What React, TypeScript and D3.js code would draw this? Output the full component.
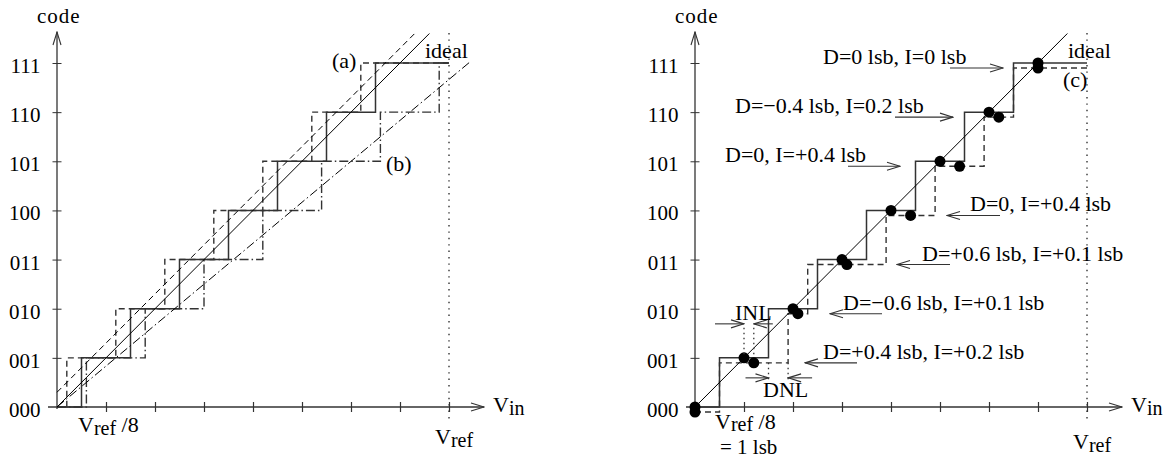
import * as d3 from "d3";
import { useEffect, useRef } from "react";

// codes on the y axis, lsb steps on the x axis
const codes = ["000", "001", "010", "011", "100", "101", "110", "111"];
const codeTicks = [0, 1, 2, 3, 4, 5, 6, 7];
const lsbTicks = [1, 2, 3, 4, 5, 6, 7, 8];

// transition points (lsb) for codes 001..111
const idealSteps = [0.5, 1.5, 2.5, 3.5, 4.5, 5.5, 6.5];
const offsetSteps = [0.2, 1.2, 2.2, 3.2, 4.2, 5.2, 6.2];
const gainSteps = [0.6, 1.8, 3.0, 4.2, 5.4, 6.6, 7.8];
const realSteps = [0.5, 1.9, 2.3, 3.9, 4.9, 5.9, 6.5];

// straight lines [lsb, code]
const idealLine = [[0, 0], [7.6, 7.6]];
const offsetLine = [[0, 0.3], [7.3, 7.6]];
const gainLine = [[0, 0], [8.45, 7.04]];

// INL of each tread centre (lsb), codes 000..111
const inl = [0, 0.2, 0.1, 0.1, 0.4, 0.4, 0.2, 0];

// annotations for codes 111 down to 001
const noteCodes = [7, 6, 5, 4, 3, 2, 1];
const notes = [
  "D=0 lsb, I=0 lsb",
  "D=\u22120.4 lsb, I=0.2 lsb",
  "D=0, I=+0.4 lsb",
  "D=0, I=+0.4 lsb",
  "D=+0.6 lsb, I=+0.1 lsb",
  "D=\u22120.6 lsb, I=+0.1 lsb",
  "D=+0.4 lsb, I=+0.2 lsb",
];
// text x, arrow start, arrow end (px)
const noteLayout = [
  [823, 950, 1003],
  [735, 895, 953],
  [725, 848, 900],
  [970, 1000, 947],
  [922, 950, 897],
  [843, 882, 830],
  [823, 857, 805],
];

const FONT = "'Liberation Serif', 'DejaVu Serif', serif";
const INK = "#333";
const SHIFT = 5; // the real characteristic is drawn a bit below the ideal one

const stairs = (steps: number[]) => {
  const pts: [number, number][] = [[0, 0]];
  steps.forEach((s, i) => {
    pts.push([s, i]);
    pts.push([s, i + 1]);
  });
  pts.push([8, 7]);
  return pts;
};

const App = () => {
  const ref = useRef<SVGSVGElement>(null);

  useEffect(() => {
    const svg = d3.select(ref.current);
    svg.selectAll("*").remove();

    const defs = svg.append("defs");
    defs.append("marker")
      .attr("id", "arr")
      .attr("markerUnits", "userSpaceOnUse")
      .attr("markerWidth", 15).attr("markerHeight", 10)
      .attr("viewBox", "0 0 15 10")
      .attr("refX", 14).attr("refY", 5)
      .attr("orient", "auto")
      .append("path")
      .attr("d", "M1,1 L14,5 L1,9")
      .attr("fill", "none").attr("stroke", INK).attr("stroke-width", 1.1);

    const y = d3.scaleLinear().domain([0, 7]).range([407, 63]);

    const text = (g: any, x: number, yy: number, s: string, size = 22) =>
      g.append("text")
        .attr("x", x).attr("y", yy)
        .attr("font-family", FONT).attr("font-size", size)
        .attr("fill", "#000")
        .text(s);

    const sub = (g: any, x: number, yy: number, main: string, low: string, tail = "", drop = 3) => {
      const t = g.append("text").attr("x", x).attr("y", yy)
        .attr("font-family", FONT).attr("fill", "#000");
      t.append("tspan").attr("font-size", 22).text(main);
      t.append("tspan").attr("font-size", 20).attr("dy", drop).text(low);
      if (tail) t.append("tspan").attr("font-size", 22).attr("dy", -drop).text(tail);
    };

    const drawAxes = (g: any, x: d3.ScaleLinear<number, number>) => {
      const yAxis = g.append("g").attr("transform", `translate(${x(0)},0)`)
        .call(d3.axisLeft(y).tickValues(codeTicks).tickFormat((i: any) => codes[i]).tickSize(4.5).tickPadding(12));
      yAxis.select(".domain").remove();
      yAxis.selectAll("line").attr("stroke", INK).filter((d: any) => d === 0).remove();
      yAxis.selectAll("text").attr("font-family", FONT).attr("font-size", 21).attr("dy", "0.45em").attr("fill", "#000");

      const yAxis2 = g.append("g").attr("transform", `translate(${x(0)},0)`)
        .call(d3.axisRight(y).tickValues(codeTicks.slice(1)).tickFormat(() => "").tickSize(4.5));
      yAxis2.select(".domain").remove();
      yAxis2.selectAll("line").attr("stroke", INK);

      [d3.axisBottom(x), d3.axisTop(x)].forEach((ax) => {
        const a = g.append("g").attr("transform", `translate(0,${y(0)})`)
          .call(ax.tickValues(lsbTicks).tickFormat(() => "").tickSize(5));
        a.select(".domain").remove();
        a.selectAll("line").attr("stroke", INK).attr("stroke-width", 1.2);
      });

      g.append("line")
        .attr("x1", x(0)).attr("y1", y(0) + 2).attr("x2", x(0)).attr("y2", 32)
        .attr("stroke", INK).attr("stroke-width", 1.3).attr("marker-end", "url(#arr)");
      g.append("line")
        .attr("x1", x(0) - 9).attr("y1", y(0)).attr("x2", x(8) + 35).attr("y2", y(0))
        .attr("stroke", INK).attr("stroke-width", 1.3).attr("marker-end", "url(#arr)");

      // Vref dotted marker
      g.append("line")
        .attr("x1", x(8)).attr("y1", 33).attr("x2", x(8)).attr("y2", 420)
        .attr("stroke", INK).attr("stroke-width", 1.4).attr("stroke-dasharray", "1.4,5");

      text(g, x(0) - 20, 23, "code", 21).attr("letter-spacing", 1);
      sub(g, x(8) + 44, 412, "V", "in");
    };

    const curve = (g: any, x: d3.ScaleLinear<number, number>, pts: number[][], dash: string | null, w = 1.4, dy = 0, color = INK) => {
      const line = d3.line<number[]>().x((d) => x(d[0])).y((d) => y(d[1]) + dy);
      const p = g.append("path").attr("d", line(pts)).attr("fill", "none")
        .attr("stroke", color).attr("stroke-width", w);
      if (dash) p.attr("stroke-dasharray", dash);
      return p;
    };

    // ---------- left panel ----------
    const xl = d3.scaleLinear().domain([0, 8]).range([57, 449]);
    const left = svg.append("g");
    drawAxes(left, xl);
    curve(left, xl, stairs(gainSteps), "9,3,1.5,3");
    curve(left, xl, stairs(offsetSteps), "6,4");
    curve(left, xl, stairs(idealSteps), null, 1.5);
    curve(left, xl, idealLine, null, 1, 0, "#000");
    curve(left, xl, offsetLine, "6,4", 1, 0, "#000");
    curve(left, xl, gainLine, "9,3,1.5,3", 1, 0, "#000");
    text(left, 332, 68, "(a)");
    text(left, 425, 58, "ideal");
    text(left, 386, 171, "(b)");
    sub(left, 78, 432, "V", "ref", " /8");
    sub(left, 435, 444, "V", "ref");

    // ---------- right panel ----------
    const xr = d3.scaleLinear().domain([0, 8]).range([695, 1087]);
    const right = svg.append("g");
    drawAxes(right, xr);
    curve(right, xr, stairs(realSteps), "6,4", 1.4, SHIFT);
    curve(right, xr, stairs(idealSteps), null, 1.5);
    curve(right, xr, idealLine, null, 1, 0, "#000");

    right.selectAll(".dotIdeal").data(codeTicks).join("circle")
      .attr("cx", (d: number) => xr(d)).attr("cy", (d: number) => y(d)).attr("r", 5.5).attr("fill", "#000");
    right.selectAll(".dotReal").data(codeTicks).join("circle")
      .attr("cx", (d: number) => xr(d + inl[d])).attr("cy", (d: number) => y(d) + SHIFT).attr("r", 5.5).attr("fill", "#000");

    notes.forEach((s, i) => {
      const c = noteCodes[i];
      const [tx, a1, a2] = noteLayout[i];
      text(right, tx, y(c) + 1, s);
      right.append("line")
        .attr("x1", a1).attr("y1", y(c) + SHIFT).attr("x2", a2).attr("y2", y(c) + SHIFT)
        .attr("stroke", INK).attr("stroke-width", 1.1).attr("marker-end", "url(#arr)");
    });

    // INL / DNL detail on code 001
    const dotted = (x1: number, y1: number, y2: number) =>
      right.append("line").attr("x1", x1).attr("y1", y1).attr("x2", x1).attr("y2", y2)
        .attr("stroke", INK).attr("stroke-width", 1.3).attr("stroke-dasharray", "1.5,3.5");
    const arrow = (x1: number, x2: number, yy: number) =>
      right.append("line").attr("x1", x1).attr("y1", yy).attr("x2", x2).attr("y2", yy)
        .attr("stroke", INK).attr("stroke-width", 1.1).attr("marker-end", "url(#arr)");

    const c1 = y(1);
    dotted(xr(1), c1 - 30, c1);
    dotted(xr(1 + inl[1]), c1 - 30, c1);
    arrow(xr(1) - 29, xr(1), c1 - 34);
    arrow(xr(1 + inl[1]) + 19, xr(1 + inl[1]), c1 - 34);
    text(right, 735, 320, "INL");

    dotted(xr(idealSteps[1]), c1 + SHIFT, c1 + 24);
    dotted(xr(realSteps[1]), c1 + SHIFT, c1 + 24);
    arrow(xr(idealSteps[1]) - 23, xr(idealSteps[1]), c1 + 20);
    arrow(xr(realSteps[1]) + 24, xr(realSteps[1]), c1 + 20);
    text(right, 763, 397, "DNL");

    text(right, 1068, 58, "ideal");
    text(right, 1063, 87, "(c)");
    sub(right, 715, 429, "V", "ref", " /8", 2);
    text(right, 720, 454, "= 1 lsb", 21);
    sub(right, 1073, 449, "V", "ref");
  }, []);

  return (
    <svg
      ref={ref}
      width={1169}
      height={459}
      style={{ position: "absolute", left: 0, top: 0, background: "#fff" }}
    />
  );
};

export default App;
